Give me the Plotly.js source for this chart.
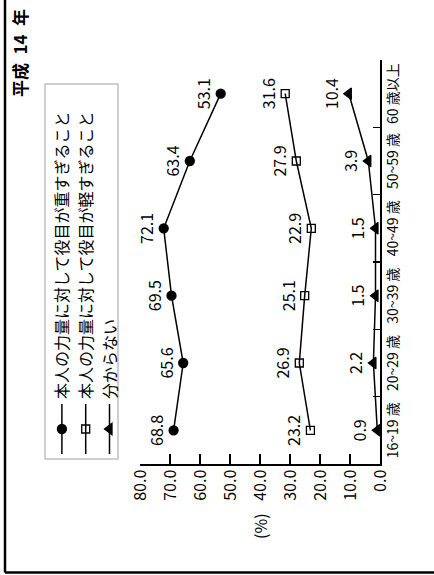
<!DOCTYPE html>
<html>
<head>
<meta charset="utf-8">
<script src="https://cdn.plot.ly/plotly-3.0.1.min.js"></script>
<style>
  html, body { margin: 0; padding: 0; width: 434px; height: 575px; overflow: hidden; background: #fff; }
  #chart { position: absolute; left: 0; top: 0; width: 575px; height: 434px;
           transform-origin: 0 0; transform: translate(0px, 575px) rotate(-90deg); }
</style>
</head>
<body>
<div id="chart"></div>
<script>
// ---- data ----
const categories = ['16~19 歳', '20~29 歳', '30~39 歳', '40~49 歳', '50~59 歳', '60 歳以上'];
const seriesNames = ['本人の力量に対して役目が重すぎること', '本人の力量に対して役目が軽すぎること', '分からない'];
const heavy   = [68.8, 65.6, 69.5, 72.1, 63.4, 53.1];
const light   = [23.2, 26.9, 25.1, 22.9, 27.9, 31.6];
const unknown = [0.9, 2.2, 1.5, 1.5, 3.9, 10.4];
const yTickVals = [0, 10, 20, 30, 40, 50, 60, 70, 80];
const titleText = '平成\u200214\u2002年';
const unitText = '(%)';

const FONT = '"Noto Sans CJK JP", "Noto Sans", sans-serif';

// ---- geometry (unrotated chart, 575 x 434) ----
const W = 575, H = 434;
const L = 111, R = 60, T = 140, B = 54;
const pw = W - L - R, ph = H - T - B;
const px = v => (v - L) / pw;
const py = v => (H - B - v) / ph;

function trace(name, vals, symbol, size, fill) {
  return {
    type: 'scatter', mode: 'lines+markers+text', name: name,
    x: categories, y: vals,
    line: { color: '#000', width: 1.5 },
    marker: { symbol: symbol, size: size, color: fill, line: { color: '#000', width: 1.3 } },
    texttemplate: '%{y:.1f}', textposition: 'top center',
    textfont: { family: FONT, size: 16, color: '#000' },
    cliponaxis: false
  };
}

const data = [
  trace(seriesNames[0], heavy, 'circle', 9, '#000'),
  trace(seriesNames[1], light, 'square-open', 8, '#000'),
  trace(seriesNames[2], unknown, 'triangle-up', 10, '#000')
];

const layout = {
  width: W, height: H,
  margin: { l: L, r: R, t: T, b: B, pad: 0 },
  paper_bgcolor: '#fff', plot_bgcolor: '#fff',
  font: { family: FONT, color: '#000' },
  showlegend: true,
  title: {
    text: '<b>' + titleText + '</b>', font: { family: FONT, size: 17, color: '#000' },
    xref: 'container', yref: 'container', x: 566 / W, xanchor: 'right',
    y: 1 - 21 / H, yanchor: 'middle'
  },
  legend: {
    x: px(116), y: py(45), xanchor: 'left', yanchor: 'top',
    borderwidth: 0, bgcolor: 'rgba(0,0,0,0)',
    font: { family: FONT, size: 16, color: '#000' },
    traceorder: 'normal', itemwidth: 50
  },
  xaxis: {
    type: 'category', categoryorder: 'array', categoryarray: categories,
    showline: true, linecolor: '#000', linewidth: 1.5,
    ticks: 'inside', ticklen: 7, tickwidth: 1.3, tickcolor: '#000',
    tickson: 'boundaries', showgrid: false, zeroline: false, tickangle: 0,
    tickfont: { family: FONT, size: 14, color: '#000' },
    range: [-0.5, 5.5]
  },
  yaxis: {
    range: [0, 80], tickvals: yTickVals, tickformat: '.1f',
    showline: true, linecolor: '#000', linewidth: 1.5,
    ticks: 'inside', ticklen: 10, tickwidth: 1.3, tickcolor: '#000',
    showgrid: false, zeroline: false, ticklabelstandoff: 1,
    tickfont: { family: FONT, size: 16, color: '#000' }
  },
  annotations: [
    { text: unitText, xref: 'paper', yref: 'paper', x: px(49), y: 0.5,
      xanchor: 'center', yanchor: 'middle', showarrow: false,
      font: { family: FONT, size: 16, color: '#000' } }
  ],
  shapes: [
    // legend frame
    { type: 'rect', xref: 'paper', yref: 'paper', x0: px(116), y0: py(45), x1: px(491), y1: py(118),
      line: { color: '#c0c0c0', width: 1.5 }, fillcolor: 'rgba(0,0,0,0)', layer: 'below' },
    // outer frame (only top and left edges visible)
    { type: 'line', xref: 'paper', yref: 'paper', x0: px(2.5), y0: py(5), x1: px(W + 5), y1: py(5),
      line: { color: '#000', width: 2.5 } },
    { type: 'line', xref: 'paper', yref: 'paper', x0: px(2.5), y0: py(5), x1: px(2.5), y1: py(H + 5),
      line: { color: '#000', width: 2.5 } }
  ]
};

Plotly.newPlot('chart', data, layout, { displayModeBar: false, staticPlot: true });
</script>
</body>
</html>
